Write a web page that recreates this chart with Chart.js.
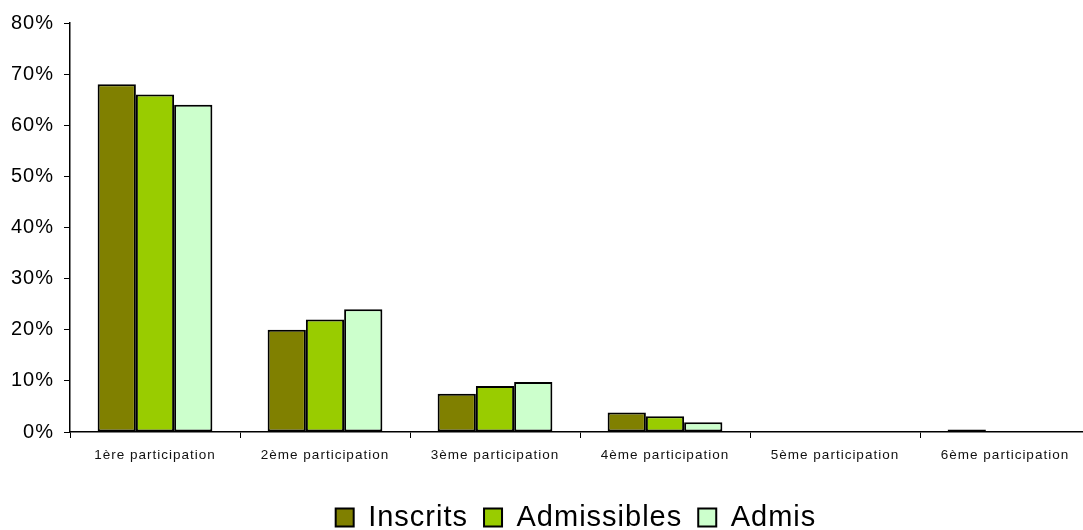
<!DOCTYPE html>
<html>
<head>
<meta charset="utf-8">
<script src="https://cdn.jsdelivr.net/npm/chart.js@4/dist/chart.umd.min.js"></script>
<style>
  html, body { margin: 0; padding: 0; background: #fff; overflow: hidden; }
  #wrap { width: 1090px; height: 542px; }
</style>
</head>
<body>
<div id="wrap"><canvas id="c" width="1090" height="542"></canvas></div>
<script>
// Share of candidates by number of participations (%)
const categories = ['1ère participation', '2ème participation', '3ème participation',
                    '4ème participation', '5ème participation', '6ème participation'];
const inscrits     = [68, 20, 7.5, 3.8, 0, 0.5];
const admissibles  = [66, 22, 9, 3.1, 0, 0];
const admis        = [64, 24, 9.8, 1.9, 0, 0];
const yTicks       = [0, 10, 20, 30, 40, 50, 60, 70, 80];

const fontFamily = '"Liberation Sans", Arial, Helvetica, sans-serif';

function series(label, data, color) {
  return {
    label, data,
    backgroundColor: color,
    borderColor: '#000',
    borderWidth: 2,
    borderSkipped: false,
    barPercentage: 1,
    categoryPercentage: 0.675
  };
}

// slightly spaced lettering for all chart text
const letterSpacing = {
  id: 'letterSpacing',
  beforeUpdate(chart) { chart.ctx.letterSpacing = '1px'; },
  beforeDraw(chart) { chart.ctx.letterSpacing = '1px'; }
};

// centre the legend under the plot area rather than the whole canvas
const legendShift = {
  id: 'legendShift',
  afterLayout(chart) {
    const lg = chart.legend;
    if (lg) { lg.left += 31; lg.right += 31; }
  }
};

new Chart(document.getElementById('c'), {
  type: 'bar',
  data: {
    labels: categories,
    datasets: [
      series('Inscrits', inscrits, '#808000'),
      series('Admissibles', admissibles, '#99CC00'),
      series('Admis', admis, '#CCFFCC')
    ]
  },
  plugins: [letterSpacing, legendShift],
  options: {
    responsive: false,
    animation: false,
    layout: { padding: { top: 23, left: 0, right: 0, bottom: 0 } },
    scales: {
      x: {
        grid: { display: true, drawOnChartArea: false, drawTicks: true, tickLength: 6, color: '#000', offset: true },
        border: { display: true, color: '#000', width: 1.5 },
        ticks: { color: '#111', font: { family: fontFamily, size: 13.5 }, padding: 9, maxRotation: 0, autoSkip: false },
        afterFit(scale) { scale.height = 55; }
      },
      y: {
        min: 0, max: 80,
        afterBuildTicks(scale) { scale.ticks = yTicks.map(v => ({ value: v })); },
        grid: { display: true, drawOnChartArea: false, drawTicks: true, tickLength: 6, color: '#000' },
        border: { display: true, color: '#000', width: 1.5 },
        ticks: { color: '#000', font: { family: fontFamily, size: 20 }, padding: 10, callback: v => v + '%' },
        afterFit(scale) { scale.width = 70; }
      }
    },
    plugins: {
      tooltip: { enabled: false },
      legend: {
        position: 'bottom',
        labels: {
          color: '#000',
          font: { family: fontFamily, size: 29 },
          boxWidth: 18, boxHeight: 18,
          padding: 16,
          useBorderRadius: false
        }
      }
    }
  }
});
</script>
</body>
</html>
